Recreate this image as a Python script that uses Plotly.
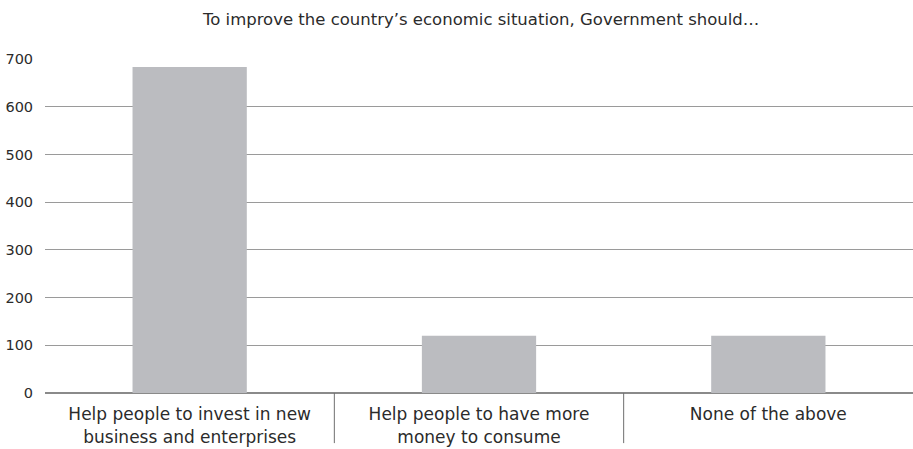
import plotly.graph_objects as go

categories = ["Help people to invest in new<br>business and enterprises",
              "Help people to have more<br>money to consume",
              "None of the above"]
values = [683, 120, 120]
y_ticks = [0, 100, 200, 300, 400, 500, 600, 700]
title_text = "To improve the country’s economic situation, Government should…"

FONT = "DejaVu Sans"
TXT = "#2b2b2b"

fig = go.Figure(go.Bar(x=categories, y=values, marker=dict(color="#bbbcc0", line=dict(width=0)),
                       width=0.395))

fig.update_layout(
    width=913, height=449,
    margin=dict(l=45, r=0, t=59, b=56),
    paper_bgcolor="white", plot_bgcolor="white",
    showlegend=False,
    font=dict(family=FONT, size=14, color=TXT),
    title=dict(text=title_text, x=0.527, xanchor="center", y=0.958, yanchor="middle",
               font=dict(family=FONT, size=16.5, color=TXT)),
)
fig.update_xaxes(showgrid=False, showline=False, ticks="outside", ticklen=6,
                 tickcolor="rgba(0,0,0,0)", tickfont=dict(size=17, color=TXT),
                 range=[-0.5, 2.5])
fig.update_yaxes(range=[0, 700], tickvals=y_ticks, showgrid=True, gridcolor="#9a9a9a", gridwidth=1,
                 zeroline=True, zerolinecolor="#8a8a8a", zerolinewidth=1.5,
                 showline=False, ticks="outside", ticklen=8, tickcolor="rgba(0,0,0,0)",
                 tickfont=dict(size=14.5, color=TXT))
for xb in [0.5, 1.5]:
    fig.add_shape(type="line", xref="x", yref="paper", x0=xb, x1=xb, y0=0, y1=-0.15,
                  line=dict(color="#6f6f6f", width=1))

fig.write_html("out.html")
